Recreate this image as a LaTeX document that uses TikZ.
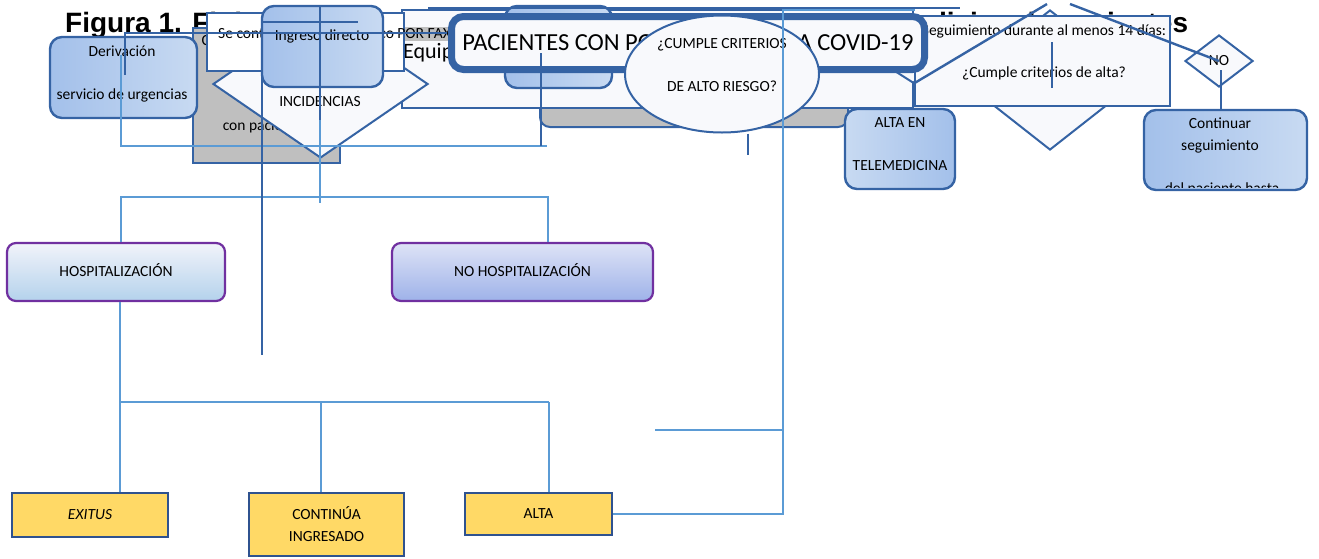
\documentclass[tikz,border=0pt]{standalone}
\usepackage{fontspec}
\setmainfont{Carlito}
\newfontfamily\headfont{Liberation Sans}
\usetikzlibrary{shapes.geometric}
\definecolor{boxline}{RGB}{53,99,164}
\definecolor{linklight}{RGB}{91,155,213}
\definecolor{gradleft}{RGB}{163,192,234}
\definecolor{gradright}{RGB}{200,218,242}
\definecolor{paleback}{RGB}{248,249,252}
\definecolor{grayback}{RGB}{191,191,191}
\definecolor{hospline}{RGB}{112,48,160}
\definecolor{hosptop}{RGB}{241,243,250}
\definecolor{hospbottom}{RGB}{180,210,236}
\definecolor{nohosptop}{RGB}{222,227,246}
\definecolor{nohospbottom}{RGB}{158,178,233}
\definecolor{yellowback}{RGB}{255,217,102}
\definecolor{yellowline}{RGB}{47,82,143}
\tikzset{
    txt/.style = {font=\fontsize{15.5}{18}\selectfont, inner sep=0pt},
    blue-box/.style = {draw=boxline, line width=2.4pt, rounded corners=12pt, left color=gradleft, right color=gradright, inner sep=0pt},
    pale-box/.style = {draw=boxline, line width=2pt, fill=paleback, inner sep=0pt},
    gray-box/.style = {draw=boxline, line width=2pt, fill=grayback, inner sep=0pt},
    hosp-box/.style = {draw=hospline, line width=2.2pt, rounded corners=9pt, inner sep=0pt, font=\fontsize{15.5}{18}\selectfont},
    end-box/.style = {draw=yellowline, line width=2.2pt, fill=yellowback, inner sep=0pt, align=center, font=\fontsize{15.5}{18}\selectfont},
    link/.style = {draw=linklight, line width=2.4pt},
    dark-link/.style = {draw=boxline, line width=2.4pt},
}

\begin{document}
\begin{tikzpicture}[x=1pt,y=-1pt]
\useasboundingbox (0,0) rectangle (1319,558);
\node[anchor=base west, inner sep=0pt, font=\headfont\bfseries\fontsize{28}{32}\selectfont] (fig) at (65,32) {Figura 1. Flujograma de atención y seguimiento mediante telemedicina de pacientes};

% shapes at the back
\node[draw=boxline, line width=2pt, fill=grayback, rounded corners=10pt, minimum width=308pt, minimum height=67pt, inner sep=0pt] (riskback) at (694,93.5) {};
\node[pale-box, minimum width=511pt, minimum height=98pt] (team) at (657.5,59) {};
\node[fill=grayback, minimum width=52pt, minimum height=14pt, inner sep=0pt] (faxback) at (430,34) {};
\node[txt, anchor=west, font=\fontsize{22}{26}\selectfont] (teamtxt) at (403,53) {Equipo de telemedicina};
\node[gray-box, minimum width=147pt, minimum height=135pt] (call) at (266.5,95.5) {};
\node[txt, align=center] (calltxt) at (263,84) {Contacto telefónico\\[67pt]con paciente};
\node[draw=boxline, line width=2pt, fill=paleback, diamond, minimum width=215pt, minimum height=148pt, inner sep=0pt] (incid) at (320.5,84) {};
\node[txt] (incidtxt) at (320,102) {INCIDENCIAS};
\node[draw=boxline, line width=2pt, fill=white, minimum width=197pt, minimum height=58pt] (contact) at (305.5,41.5) {};
\node[txt, anchor=base west] (contacttxt) at (218,38) {Se contactará con el médico POR FAX};

% entry boxes
\node[blue-box, minimum width=147pt, minimum height=81pt] (deriv) at (123.5,77.5) {};
\node[txt, align=center] (derivtxt) at (122,73.5) {Derivación\\[25pt]servicio de urgencias};
\node[blue-box, minimum width=121pt, minimum height=81pt] (ingreso) at (322.5,46.5) {};
\node[txt] (ingresotxt) at (322,36) {Ingreso directo};
\node[blue-box, minimum width=107pt, minimum height=82pt] (hidden) at (558.5,47) {};

% right part
\node[pale-box, diamond, minimum width=78pt, minimum height=50pt] (smalldec) at (913,58) {};
\node[pale-box, diamond, minimum width=178pt, minimum height=140pt] (altadec) at (1050,80) {};
\node[pale-box, minimum width=255pt, minimum height=90pt] (follow) at (1042.5,61) {};
\node[txt, align=center] (followtxt) at (1044,52) {Seguimiento durante al menos 14 días:\\[24pt]¿Cumple criterios de alta?};

% title and risk question
\node[draw=boxline, line width=7pt, fill=paleback, rounded corners=12pt, minimum width=473pt, minimum height=53pt, inner sep=0pt, font=\fontsize{24.5}{28}\selectfont] (title) at (688,43) {PACIENTES CON POSITIVIDAD PARA COVID-19};
\node[pale-box, ellipse, minimum width=194pt, minimum height=117pt] (risk) at (722,74) {};
\node[txt, align=center] (risktxt) at (722,65.5) {¿CUMPLE CRITERIOS\\[25pt]DE ALTO RIESGO?};

\node[draw=boxline, line width=2.4pt, rounded corners=12pt, left color=gradright, right color=gradleft, minimum width=110pt, minimum height=80pt, inner sep=0pt] (teleout) at (900,149) {};
\node[txt, align=center] (teleouttxt) at (900,144.5) {ALTA EN\\[25pt]TELEMEDICINA};
\node[pale-box, diamond, minimum width=68pt, minimum height=52pt, font=\fontsize{15.5}{18}\selectfont] (nodec) at (1219,61) {NO};
\node[blue-box, minimum width=163pt, minimum height=80pt] (keep) at (1225.5,150) {};
\node[txt, align=center] (keeptxt) at (1220,135) {Continuar\\[4pt]seguimiento};
\begin{scope}
\clip (1146,112) rectangle (1305,187);
\node[txt] (keepmore) at (1222,189) {del paciente hasta};
\end{scope}

% hospital boxes
\node[hosp-box, top color=hosptop, bottom color=hospbottom, minimum width=218pt, minimum height=58pt] (hosp) at (116,272) {\raisebox{4pt}{HOSPITALIZACIÓN}};
\node[hosp-box, top color=nohosptop, bottom color=nohospbottom, minimum width=261pt, minimum height=58pt] (nohosp) at (522.5,272) {\raisebox{4pt}{NO HOSPITALIZACIÓN}};
\node[end-box, minimum width=156pt, minimum height=44pt] (exitus) at (90,515) {\itshape EXITUS};
\node[end-box, minimum width=155pt, minimum height=63pt] (stay) at (326.5,524.5) {CONTINÚA\\[4pt]INGRESADO};
\node[end-box, minimum width=147pt, minimum height=42pt] (discharge) at (538.5,514) {ALTA};

% light connectors
\coordinate (upbar-top) at (121,55);
\coordinate (upbar-l) at (121,146);
\coordinate (upbar-r) at (547,146);
\draw[link] (upbar-top) -- (upbar-l) -- (upbar-r);
\coordinate (hospbar-l) at (121,197);
\coordinate (hospbar-r) at (548,197);
\draw[link] (hosp.north -| hospbar-l) -- (hospbar-l) -- (hospbar-r) -- (hospbar-r |- nohosp.north);
\coordinate (incid-a) at (320,120);
\coordinate (incid-b) at (320,203);
\draw[link] (incid-a) -- (incid-b);
\coordinate (lowbar-l) at (120,402);
\coordinate (lowbar-m) at (321,402);
\coordinate (lowbar-r) at (549,402);
\draw[link] (lowbar-l |- hosp.south) -- (lowbar-l) -- (lowbar-r);
\draw[link] (lowbar-l) -- (lowbar-l |- exitus.north);
\draw[link] (lowbar-m) -- (lowbar-m |- stay.north);
\draw[link] (lowbar-r) -- (lowbar-r |- discharge.north);
\coordinate (rightbar-t) at (783,10);
\coordinate (rightbar-e) at (915,10);
\coordinate (midstub) at (655,430);
\draw[link] (discharge.east) -- (discharge.east -| rightbar-t) -- (rightbar-t) -- (rightbar-e);
\draw[link] (midstub) -- (midstub -| rightbar-t);

% dark connectors
\coordinate (deriv-a) at (125,75);
\coordinate (deriv-b) at (125,33);
\coordinate (deriv-c) at (447,33);
\draw[dark-link] (deriv-a) -- (deriv-b) -- (deriv-c);
\coordinate (ingreso-a) at (262,22);
\coordinate (ingreso-b) at (358,22);
\draw[dark-link] (ingreso-a) -- (ingreso-b);
\coordinate (ingreso-c) at (320,6);
\draw[dark-link] (ingreso-c) -- (incid-a);
\coordinate (ingreso-d) at (262,70);
\coordinate (ingreso-e) at (262,355);
\draw[dark-link] (ingreso-d) -- (ingreso-e);
\coordinate (title-a) at (541,53);
\draw[dark-link] (title-a) -- (title-a |- upbar-r);
\coordinate (top-a) at (428,8);
\coordinate (top-b) at (960,8);
\draw[dark-link] (top-a) -- (top-b);
\coordinate (risk-a) at (748,155);
\draw[dark-link] (risk.south -| risk-a) -- (risk-a);
\draw[dark-link] (smalldec.south) -- (smalldec.south |- teleout.north);
\coordinate (cross-a) at (1047,4);
\coordinate (cross-b) at (1070,4);
\draw[dark-link] (smalldec.south) -- (cross-a);
\draw[dark-link] (cross-b) -- (nodec.center);
\coordinate (follow-a) at (1052,42);
\coordinate (follow-b) at (1052,88);
\draw[dark-link] (follow-a) -- (follow-b);
\draw[dark-link] ([xshift=2pt,yshift=-9pt]nodec.center) -- ([xshift=2pt]nodec.center |- keep.north);
\end{tikzpicture}
\end{document}
